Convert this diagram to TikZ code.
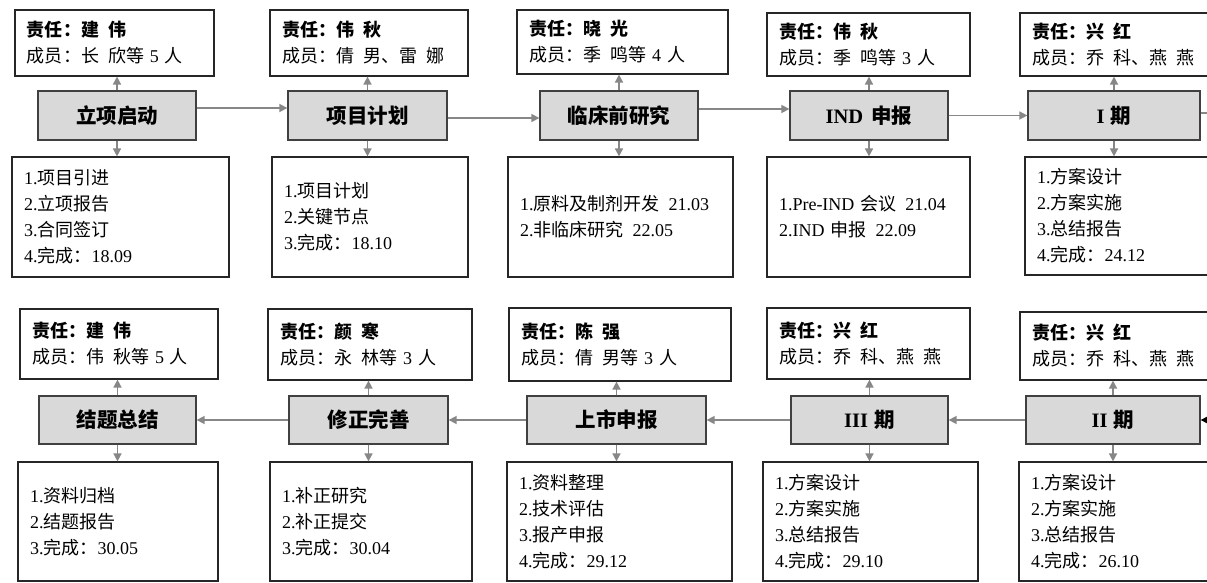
\documentclass[tikz,border=0pt]{standalone}
\usepackage{fontspec}
\setmainfont{Noto Sans CJK SC}
\newfontfamily\serif{Liberation Serif}
\newcommand\ltn[1]{{\serif #1}}
\newcommand\hs{\hspace{0.5em}}
\usetikzlibrary{arrows.meta}
\tikzset{
  whitebox/.style={draw=black!85, line width=1.2pt, fill=white, align=left,
    inner xsep=12pt, inner ysep=0pt, font=\fontsize{18}{26}\selectfont},
  graybox/.style={draw=black!75, line width=1.3pt, fill=black!15, align=center,
    inner xsep=12pt, inner ysep=0pt, font=\fontsize{20.5}{24}\selectfont\bfseries},
  conn/.style={draw=black!47, line width=1.6pt, -{Triangle[length=8pt,width=8pt]}},
  connplain/.style={draw=black!47, line width=1.6pt},
  blackconn/.style={draw=black, line width=1.5pt, -{Triangle[length=9pt,width=9pt]}},
}
\newcommand\boxat[7]{%
  \pgfmathsetmacro\bw{#5-#3}\pgfmathsetmacro\bh{#6-#4}%
  \pgfmathsetmacro\bx{(#3+#5)/2}\pgfmathsetmacro\by{(#4+#6)/2}%
  \pgfmathsetmacro\btw{#5-#3-24}%
  \node[#1, minimum width=\bw pt, minimum height=\bh pt, text width=\btw pt] (#2) at (\bx,\by) {#7};}
\begin{document}
\begin{tikzpicture}[x=1pt,y=-1pt]
\useasboundingbox (0,0) rectangle (1207,583);
\clip (0,0) rectangle (1207,583);
\fill[white] (0,0) rectangle (1207,583);
% ---------- row 1 ----------
\boxat{whitebox}{t1}{15}{10}{214}{76}{\textbf{责任：建\hs{}伟}\\成员：长\hs{}欣等\ltn{ 5 }人}
\boxat{whitebox}{t2}{270}{10}{468}{76}{\textbf{责任：伟\hs{}秋}\\成员：倩\hs{}男、雷\hs{}娜}
\boxat{whitebox}{t3}{517}{10}{728}{74}{\textbf{责任：晓\hs{}光}\\成员：季\hs{}鸣等\ltn{ 4 }人}
\boxat{whitebox}{t4}{767}{13}{970}{76}{\textbf{责任：伟\hs{}秋}\\成员：季\hs{}鸣等\ltn{ 3 }人}
\boxat{whitebox}{t5}{1020}{13}{1240}{76}{\textbf{责任：兴\hs{}红}\\成员：乔\hs{}科、燕\hs{}燕}
\boxat{graybox}{g1}{38}{91}{196}{140}{立项启动}
\boxat{graybox}{g2}{288}{91}{447}{140}{项目计划}
\boxat{graybox}{g3}{540}{91}{698}{140}{临床前研究}
\boxat{graybox}{g4}{790}{91}{948}{140}{\ltn{IND}\hspace{0.4em}申报}
\boxat{graybox}{g5}{1028}{91}{1200}{140}{\ltn{I}\hspace{0.3em}期}
\boxat{whitebox}{b1}{12}{157}{229}{277}{\ltn{1.}项目引进\\\ltn{2.}立项报告\\\ltn{3.}合同签订\\\ltn{4.}完成：\ltn{18.09}}
\boxat{whitebox}{b2}{272}{157}{468}{277}{\ltn{1.}项目计划\\\ltn{2.}关键节点\\\ltn{3.}完成：\ltn{18.10}}
\boxat{whitebox}{b3}{508}{157}{733}{277}{\ltn{1.}原料及制剂开发\hs{}\ltn{21.03}\\\ltn{2.}非临床研究\hs{}\ltn{22.05}}
\boxat{whitebox}{b4}{767}{157}{970}{277}{\ltn{1.Pre-IND }会议\hs{}\ltn{21.04}\\\ltn{2.IND }申报\hs{}\ltn{22.09}}
\boxat{whitebox}{b5}{1025}{157}{1240}{275}{\ltn{1.}方案设计\\\ltn{2.}方案实施\\\ltn{3.}总结报告\\\ltn{4.}完成：\ltn{24.12}}
% ---------- row 2 ----------
\boxat{whitebox}{t10}{20}{309}{218}{379}{\textbf{责任：建\hs{}伟}\\成员：伟\hs{}秋等\ltn{ 5 }人}
\boxat{whitebox}{t9}{268}{309}{472}{380}{\textbf{责任：颜\hs{}寒}\\成员：永\hs{}林等\ltn{ 3 }人}
\boxat{whitebox}{t8}{509}{308}{731}{381}{\textbf{责任：陈\hs{}强}\\成员：倩\hs{}男等\ltn{ 3 }人}
\boxat{whitebox}{t7}{767}{308}{970}{379}{\textbf{责任：兴\hs{}红}\\成员：乔\hs{}科、燕\hs{}燕}
\boxat{whitebox}{t6}{1020}{312}{1240}{380}{\textbf{责任：兴\hs{}红}\\成员：乔\hs{}科、燕\hs{}燕}
\boxat{graybox}{g10}{39}{396}{196}{444}{结题总结}
\boxat{graybox}{g9}{289}{396}{448}{444}{修正完善}
\boxat{graybox}{g8}{527}{396}{706}{444}{上市申报}
\boxat{graybox}{g7}{791}{396}{948}{444}{\ltn{III}\hspace{0.3em}期}
\boxat{graybox}{g6}{1026}{396}{1200}{444}{\ltn{II}\hspace{0.3em}期}
\boxat{whitebox}{b10}{18}{462}{218}{581}{\ltn{1.}资料归档\\\ltn{2.}结题报告\\\ltn{3.}完成：\ltn{30.05}}
\boxat{whitebox}{b9}{270}{462}{472}{581}{\ltn{1.}补正研究\\\ltn{2.}补正提交\\\ltn{3.}完成：\ltn{30.04}}
\boxat{whitebox}{b8}{507}{462}{732}{581}{\ltn{1.}资料整理\\\ltn{2.}技术评估\\\ltn{3.}报产申报\\\ltn{4.}完成：\ltn{29.12}}
\boxat{whitebox}{b7}{763}{462}{978}{581}{\ltn{1.}方案设计\\\ltn{2.}方案实施\\\ltn{3.}总结报告\\\ltn{4.}完成：\ltn{29.10}}
\boxat{whitebox}{b6}{1019}{462}{1240}{581}{\ltn{1.}方案设计\\\ltn{2.}方案实施\\\ltn{3.}总结报告\\\ltn{4.}完成：\ltn{26.10}}
% ---------- connectors ----------
\foreach \i in {1,...,10}{
  \draw[conn] (g\i.north) -- (g\i.north |- t\i.south);
  \draw[conn] (g\i.south) -- (g\i.south |- b\i.north);
}
\draw[conn] ([yshift=7.5pt]g1.east) -- ([yshift=7.5pt]g2.west);
\draw[conn] ([yshift=-2.5pt]g2.east) -- ([yshift=-2.5pt]g3.west);
\draw[conn] ([yshift=6.5pt]g3.east) -- ([yshift=6.5pt]g4.west);
\draw[conn] (g4.east) -- (g5.west);
\coordinate (offA) at (1240,113);
\draw[connplain] ([yshift=2.5pt]g5.east) -- (offA);
\coordinate (offB) at (1240,420);
\draw[blackconn] (offB) -- (g6.east);
\draw[conn] (g6.west) -- (g7.east);
\draw[conn] (g7.west) -- (g8.east);
\draw[conn] (g8.west) -- (g9.east);
\draw[conn] (g9.west) -- (g10.east);
\end{tikzpicture}
\end{document}
